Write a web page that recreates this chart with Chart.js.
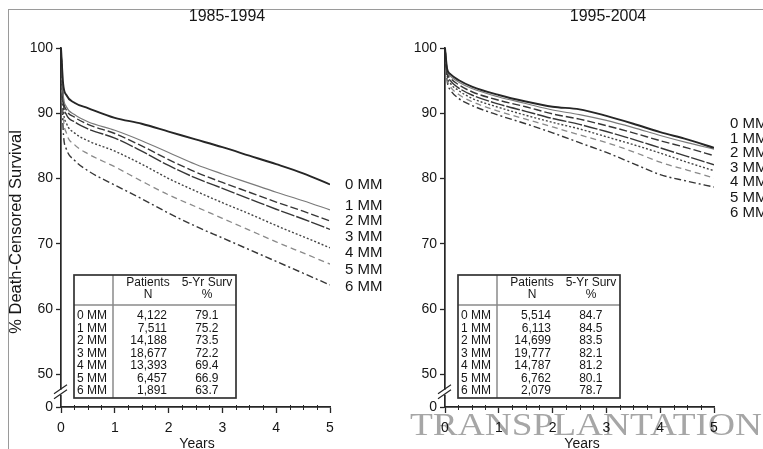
<!DOCTYPE html>
<html>
<head>
<meta charset="utf-8">
<script src="https://cdn.jsdelivr.net/npm/chart.js@4.4.1/dist/chart.umd.min.js"></script>
<style>
  html, body { margin: 0; padding: 0; background: #fff; }
  #wrap { position: relative; width: 763px; height: 449px; overflow: hidden; background: #fff; }
  canvas { position: absolute; top: 0; }
  #c1 { left: 0; }
  #c2 { left: 390px; }
</style>
</head>
<body>
<div id="wrap">
  <canvas id="c1" width="390" height="449"></canvas>
  <canvas id="c2" width="373" height="449"></canvas>
</div>
<script>
// ---- data ----
const YEARS = [0, 0.04, 0.1, 0.25, 0.5, 1, 1.5, 2, 2.5, 3, 3.5, 4, 4.5, 5];
const GROUPS = ['0 MM', '1 MM', '2 MM', '3 MM', '4 MM', '5 MM', '6 MM'];
const X_TICKS = [0, 1, 2, 3, 4, 5];
const Y_TICKS = [45, 50, 60, 70, 80, 90, 100];      // 45 sits under the axis break
const Y_TICK_LABELS = ['0', '50', '60', '70', '80', '90', '100'];
const TITLES = ['1985-1994', '1995-2004'];

// 1985-1994 survival curves (%), up to 4.5 years; the 5-year point comes from the table
const mm0_1985 = [100, 94.5, 92.8, 91.6, 90.8, 89.3, 88.4, 87.2, 86.0, 84.8, 83.5, 82.2, 80.8];
const mm1_1985 = [100, 93.0, 91.0, 89.8, 88.7, 87.4, 85.8, 84.0, 82.2, 80.7, 79.3, 77.9, 76.6];
const mm2_1985 = [100, 92.5, 90.5, 89.4, 88.3, 86.9, 85.0, 82.9, 81.0, 79.4, 77.9, 76.4, 75.0];
const mm3_1985 = [100, 92.0, 89.8, 88.7, 87.6, 86.2, 84.2, 82.0, 80.1, 78.5, 76.9, 75.3, 73.8];
const mm4_1985 = [100, 91.0, 88.5, 87.0, 85.8, 84.2, 82.2, 80.0, 78.1, 76.3, 74.6, 72.8, 71.1];
const mm5_1985 = [100, 90.0, 87.0, 85.2, 83.8, 81.8, 79.6, 77.5, 75.7, 73.9, 72.1, 70.3, 68.6];
const mm6_1985 = [100, 87.5, 84.5, 82.8, 81.2, 79.0, 76.9, 74.7, 72.7, 70.9, 69.1, 67.3, 65.5];
const patients1985 = [4122, 7511, 14188, 18677, 13393, 6457, 1891];
const fiveYr1985 = [79.1, 75.2, 73.5, 72.2, 69.4, 66.9, 63.7];

// 1995-2004 survival curves (%)
const mm0_1995 = [100, 96.8, 96.0, 95.1, 94.1, 92.8, 91.8, 91.0, 90.6, 89.6, 88.4, 87.1, 86.0];
const mm1_1995 = [100, 96.6, 95.7, 94.8, 93.8, 92.5, 91.5, 90.5, 89.8, 88.9, 87.8, 86.6, 85.5];
const mm2_1995 = [100, 96.4, 95.4, 94.4, 93.3, 92.0, 91.0, 89.9, 89.1, 88.1, 87.0, 85.8, 84.7];
const mm3_1995 = [100, 96.1, 95.0, 93.9, 92.8, 91.4, 90.3, 89.2, 88.3, 87.2, 86.0, 84.7, 83.4];
const mm4_1995 = [100, 95.8, 94.6, 93.5, 92.3, 90.9, 89.7, 88.6, 87.6, 86.4, 85.2, 83.9, 82.5];
const mm5_1995 = [100, 95.4, 94.1, 92.9, 91.8, 90.3, 89.1, 87.9, 86.7, 85.5, 84.1, 82.5, 81.3];
const mm6_1995 = [100, 95.0, 93.6, 92.3, 91.2, 89.7, 88.4, 87.0, 85.5, 84.0, 82.3, 80.6, 79.6];
const patients1995 = [5514, 6113, 14699, 19777, 14787, 6762, 2079];
const fiveYr1995 = [84.7, 84.5, 83.5, 82.1, 81.2, 80.1, 78.7];

// ---- styling ----
const FONT = '"Liberation Sans", Arial, Helvetica, sans-serif';
const INK = '#161616';
const AXIS = '#262626';
const LINE_STYLES = [
  { color: '#262626', width: 1.9, dash: [] },
  { color: '#7a7a7a', width: 1.2, dash: [] },
  { color: '#363636', width: 1.4, dash: [8, 3] },
  { color: '#363636', width: 1.4, dash: [14, 2] },
  { color: '#444444', width: 1.4, dash: [2, 2] },
  { color: '#8a8a8a', width: 1.3, dash: [6, 4] },
  { color: '#363636', width: 1.4, dash: [7, 3, 2, 3] }
];

const panels = [
  {
    canvas: 'c1', title: TITLES[0],
    series: [mm0_1985, mm1_1985, mm2_1985, mm3_1985, mm4_1985, mm5_1985, mm6_1985],
    patients: patients1985, fiveYr: fiveYr1985,
    box: { axisLeft: 61, padRight: 60, titleX: 227, yearsX: 197, labelX: 345,
           labelY: [185, 206, 221, 237, 253, 270, 287], tableX: 74, frame: true, yTitle: true, mark: false }
  },
  {
    canvas: 'c2', title: TITLES[1],
    series: [mm0_1995, mm1_1995, mm2_1995, mm3_1995, mm4_1995, mm5_1995, mm6_1995],
    patients: patients1995, fiveYr: fiveYr1995,
    box: { axisLeft: 55, padRight: 49, titleX: 218, yearsX: 192, labelX: 340,
           labelY: [124, 139, 153, 168, 182, 198, 213], tableX: 68, frame: false, yTitle: false, mark: true }
  }
];

function drawTable(ctx, x0, patients, fiveYr) {
  const top = 275, bottom = 398, w = 162, headLine = 305, colLine = x0 + 39;
  ctx.save();
  ctx.fillStyle = '#fff';
  ctx.fillRect(x0, top, w, bottom - top);
  ctx.strokeStyle = '#8a8a8a';
  ctx.lineWidth = 1.5;
  ctx.beginPath();
  ctx.moveTo(colLine, top); ctx.lineTo(colLine, bottom);
  ctx.moveTo(x0, headLine); ctx.lineTo(x0 + w, headLine);
  ctx.stroke();
  ctx.strokeStyle = '#333';
  ctx.lineWidth = 1.7;
  ctx.strokeRect(x0, top, w, bottom - top);

  ctx.fillStyle = INK;
  ctx.font = '12px ' + FONT;
  ctx.textBaseline = 'middle';
  ctx.textAlign = 'center';
  ctx.fillText('Patients', x0 + 74, 283);
  ctx.fillText('N', x0 + 74, 295);
  ctx.fillText('5-Yr Surv', x0 + 133, 283);
  ctx.fillText('%', x0 + 133, 295);
  GROUPS.forEach((g, i) => {
    const y = 316 + i * 12.5;
    ctx.textAlign = 'left';
    ctx.fillText(g, x0 + 3, y);
    ctx.textAlign = 'right';
    ctx.fillText(patients[i].toLocaleString('en-US'), x0 + 93, y);
    ctx.fillText(fiveYr[i].toFixed(1), x0 + 144.5, y);
  });
  ctx.restore();
}

function decorPlugin(panel) {
  const b = panel.box;
  return {
    id: 'decor',
    beforeDraw(chart) {
      const ctx = chart.ctx;
      ctx.save();
      ctx.fillStyle = '#fff';
      ctx.fillRect(0, 0, chart.width, chart.height);
      if (b.mark) {
        // journal masthead along the bottom edge
        ctx.font = '31px "Liberation Serif", "DejaVu Serif", serif';
        const word = 'TRANSPLANTATION';
        const wdt = ctx.measureText(word).width;
        ctx.translate(20, 435);
        ctx.scale(352 / wdt, 1);
        ctx.fillStyle = '#a6a6a6';
        ctx.textBaseline = 'alphabetic';
        ctx.fillText(word, 0, 0);
      }
      ctx.restore();
    },
    afterDraw(chart) {
      const ctx = chart.ctx;
      const xs = chart.scales.x, ys = chart.scales.y;
      const area = chart.chartArea;
      ctx.save();

      // outer frame
      ctx.strokeStyle = '#9a9a9a';
      ctx.lineWidth = 1;
      ctx.beginPath();
      ctx.moveTo(b.frame ? 8 : 0, 9.5); ctx.lineTo(chart.width, 9.5);
      if (b.frame) { ctx.moveTo(8.5, 9.5); ctx.lineTo(8.5, chart.height); }
      ctx.stroke();

      // minor ticks on the x axis
      ctx.strokeStyle = AXIS;
      ctx.lineWidth = 1;
      ctx.beginPath();
      for (let q = 0.25; q < 5; q += 0.25) {
        if (Math.abs(q - Math.round(q)) < 1e-6) continue;
        const px = Math.round(xs.getPixelForValue(q)) + 0.5;
        ctx.moveTo(px, area.bottom - 2); ctx.lineTo(px, area.bottom + 3);
      }
      ctx.stroke();

      // axis break between 0 and 50
      const ax = area.left;
      const yb = (ys.getPixelForValue(45) + ys.getPixelForValue(50)) / 2 + 2;
      ctx.fillStyle = '#fff';
      ctx.fillRect(ax - 2, yb - 3, 4, 5);
      ctx.strokeStyle = AXIS;
      ctx.lineWidth = 1.2;
      ctx.beginPath();
      ctx.moveTo(ax - 7, yb + 1); ctx.lineTo(ax + 6, yb - 8);
      ctx.moveTo(ax - 7, yb + 6); ctx.lineTo(ax + 6, yb - 3);
      ctx.stroke();

      // titles
      ctx.fillStyle = INK;
      ctx.textAlign = 'center';
      ctx.textBaseline = 'middle';
      ctx.font = '16px ' + FONT;
      ctx.fillText(panel.title, b.titleX, 17);
      ctx.font = '14px ' + FONT;
      ctx.fillText('Years', b.yearsX, 444);
      if (b.yTitle) {
        ctx.save();
        ctx.translate(16, 232);
        ctx.rotate(-Math.PI / 2);
        ctx.font = '16.5px ' + FONT;
        ctx.fillText('% Death-Censored Survival', 0, 0);
        ctx.restore();
      }

      // curve labels
      ctx.textAlign = 'left';
      ctx.font = '15px ' + FONT;
      GROUPS.forEach((g, i) => ctx.fillText(g, b.labelX, b.labelY[i]));

      drawTable(ctx, b.tableX, panel.patients, panel.fiveYr);
      ctx.restore();
    }
  };
}

function buildChart(panel) {
  const b = panel.box;
  const datasets = panel.series.map((vals, i) => {
    const ys = vals.concat([panel.fiveYr[i]]);
    const st = LINE_STYLES[i];
    return {
      label: GROUPS[i],
      data: YEARS.map((t, j) => ({ x: t, y: ys[j] })),
      borderColor: st.color,
      borderWidth: st.width,
      borderDash: st.dash,
      pointRadius: 0,
      fill: false,
      cubicInterpolationMode: 'monotone'
    };
  });
  return new Chart(document.getElementById(panel.canvas), {
    type: 'line',
    data: { datasets },
    options: {
      responsive: false,
      animation: false,
      devicePixelRatio: 1,
      events: [],
      layout: { padding: { left: 0, right: b.padRight, top: 48, bottom: 0 } },
      plugins: { legend: { display: false }, tooltip: { enabled: false } },
      scales: {
        x: {
          type: 'linear', min: 0, max: 5,
          afterBuildTicks: s => { s.ticks = X_TICKS.map(v => ({ value: v })); },
          afterFit: s => { s.height = 42; },
          ticks: { color: INK, font: { family: FONT, size: 14 }, padding: 7, maxRotation: 0 },
          grid: { drawOnChartArea: false, tickLength: 6, tickColor: AXIS, tickWidth: 1.3 },
          border: { color: AXIS, width: 1.7 }
        },
        y: {
          type: 'linear', min: 45, max: 100,
          afterBuildTicks: s => { s.ticks = Y_TICKS.map(v => ({ value: v })); },
          afterFit: s => { s.width = b.axisLeft; },
          ticks: {
            color: INK, font: { family: FONT, size: 14 }, padding: 3,
            callback: v => Y_TICK_LABELS[Y_TICKS.indexOf(v)]
          },
          grid: { drawOnChartArea: false, tickLength: 5, tickColor: AXIS, tickWidth: 1.3 },
          border: { color: AXIS, width: 1.7 }
        }
      }
    },
    plugins: [decorPlugin(panel)]
  });
}

panels.forEach(buildChart);
</script>
</body>
</html>
